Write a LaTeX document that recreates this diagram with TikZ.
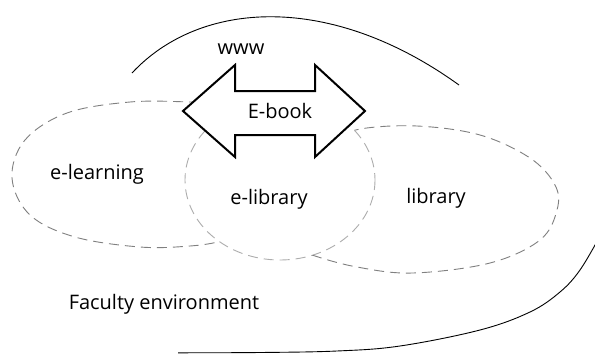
\documentclass[tikz,border=0pt]{standalone}
\usepackage{fontspec}
\setmainfont{Open Sans}
\begin{document}
\begin{tikzpicture}[x=1pt,y=-1pt,
  lbl/.style={inner sep=0pt,font=\fontsize{20}{24}\selectfont},
  outer/.style={draw=black,line width=0.9pt},
  setline/.style={draw=black!50,line width=0.9pt,dash pattern=on 10pt off 6pt},
  circline/.style={draw=black!32,line width=0.9pt,dash pattern=on 10pt off 6pt},
  bigarrow/.style={draw=black,fill=white,line width=2pt,line join=miter}]
\path[use as bounding box,fill=white] (0,0) rectangle (595,354);
% outer environment curve
\draw[outer] (132,73) .. controls (200,0) and (330,-8) .. (459,85);
\draw[outer] plot[smooth,tension=0.6] coordinates {(600,236) (580,270) (560,292) (530,312) (480,330) (400,346) (337,351) (260,352.5) (178,352.8)};
% e-library circle
\draw[circline] (280,180) ellipse [x radius=95, y radius=80];
% ellipses clipped outside circle
\begin{scope}[even odd rule]
\clip (0,0) rectangle (595,354) (280,180) ellipse [x radius=95, y radius=80];
\draw[setline] plot[smooth,tension=0.6] coordinates {(215,104) (190,102) (130,102) (67,113) (25,140) (12,178) (30,215) (75,237) (140,247) (190,246) (222,241) (245,232)};
\draw[setline] plot[smooth,tension=0.6] coordinates {(335,140) (360,129) (417,126) (480,135) (530,158) (555,185) (557,210) (540,240) (490,263) (413,273) (357,267) (312,255) (290,245)};
\end{scope}
% big double arrow
\draw[bigarrow] (183,111) -- (235,65) -- (235,91) -- (315,91) -- (315,65) -- (365,111) -- (315,157) -- (315,135) -- (235,135) -- (235,157) -- cycle;
% labels
\node[lbl] (www) at (241,49) {www};
\node[lbl] (ebook) at (280,111) {E-book};
\node[lbl] (elearn) at (97,174) {e-learning};
\node[lbl] (elib) at (269,199) {e-library};
\node[lbl] (lib) at (436,198) {library};
\node[lbl] (fac) at (164,304) {Faculty environment};
\end{tikzpicture}
\end{document}
